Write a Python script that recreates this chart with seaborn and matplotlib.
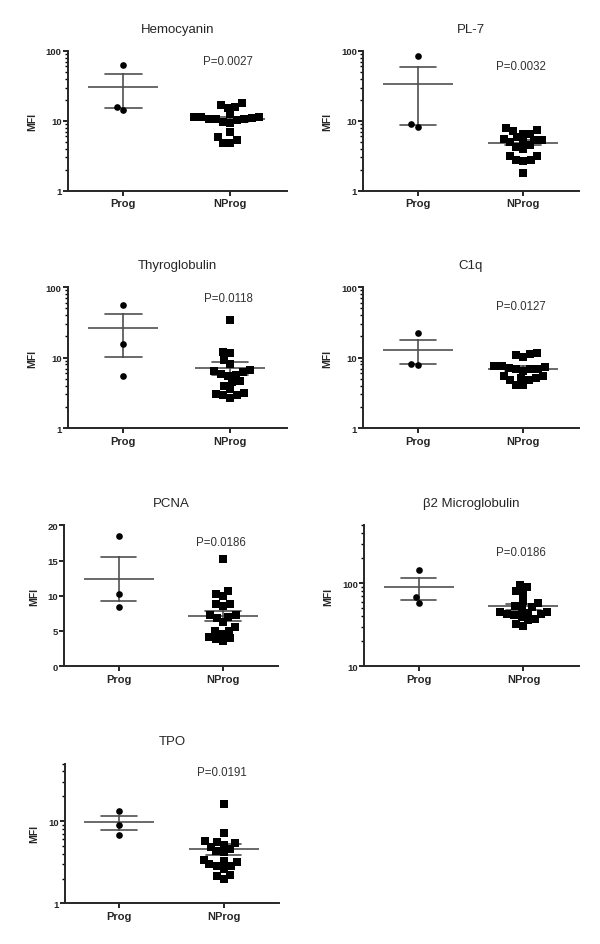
import numpy as np
import pandas as pd
import seaborn as sns
import matplotlib.pyplot as plt
from matplotlib.ticker import FixedLocator, NullFormatter

groups = ['Prog', 'NProg']

titles = ['Hemocyanin', 'PL-7', 'Thyroglobulin', 'C1q', 'PCNA', 'β2 Microglobulin', 'TPO']
p_labels = ['P=0.0027', 'P=0.0032', 'P=0.0118', 'P=0.0127', 'P=0.0186', 'P=0.0186', 'P=0.0191']

hemocyanin_prog = [62, 14.4, 15.8]
hemocyanin_nprog = [17.9, 15.8, 15.5, 16.7, 11.4, 10.8, 12.4, 11.0, 11.5, 10.2,
                    10.6, 10.8, 11.2, 9.2, 9.8, 7.0, 5.3, 5.8, 4.8, 4.9]

pl7_prog = [85, 8.3, 8.9]
pl7_nprog = [7.1, 6.6, 7.4, 8.0, 6.6, 5.4, 5.6, 5.4, 5.8, 5.0,
             4.5, 4.0, 4.3, 3.2, 2.8, 2.7, 2.8, 3.2, 1.8, 5.2]

thyro_prog = [56.7, 15.6, 5.5]
thyro_nprog = [34, 12.2, 11.5, 9.3, 8.1, 6.7, 6.2, 5.7, 5.9, 6.4,
               4.5, 4.0, 4.6, 3.1, 2.9, 2.7, 2.9, 3.0, 3.6, 5.5]

c1q_prog = [22.7, 7.9, 8.1]
c1q_nprog = [11.7, 10.9, 10.3, 11.3, 7.3, 6.9, 7.7, 7.7, 6.5, 7.1,
             6.8, 7.0, 5.1, 4.8, 5.4, 5.5, 4.8, 5.1, 4.1, 4.1]

pcna_prog = [18.5, 10.3, 8.4]
pcna_nprog = [15.2, 10.7, 10.0, 10.2, 8.8, 8.5, 8.9, 7.0, 6.9, 7.3,
              6.3, 4.6, 5.0, 5.0, 5.5, 4.0, 3.6, 3.8, 4.2, 7.2]

b2m_prog = [143.7, 69, 58.4]
b2m_nprog = [95.5, 80, 75.7, 90.3, 61, 57.3, 53.2, 49.4, 45.4, 42.2,
             41, 39.5, 42.2, 44.2, 45.4, 35.7, 32.5, 36.7, 30.5, 52]

tpo_prog = [13.2, 9.0, 6.8]
tpo_nprog = [16, 7.1, 5.65, 5.4, 4.9, 4.3, 5.15, 5.55, 4.6, 3.3,
             2.97, 3.4, 2.83, 2.65, 2.83, 3.16, 2.2, 2.0, 2.15, 4.2]

prog_sets = [hemocyanin_prog, pl7_prog, thyro_prog, c1q_prog, pcna_prog, b2m_prog, tpo_prog]
nprog_sets = [hemocyanin_nprog, pl7_nprog, thyro_nprog, c1q_nprog, pcna_nprog, b2m_nprog, tpo_nprog]

# axes rectangles, y scale, limits, major ticks, p-label height (axes fraction)
layout = [
    ([0.113, 0.797, 0.365, 0.148], 'log', (1, 100), [1, 10, 100], 0.93),
    ([0.605, 0.797, 0.360, 0.148], 'log', (1, 100), [1, 10, 100], 0.89),
    ([0.113, 0.546, 0.365, 0.149], 'log', (1, 100), [1, 10, 100], 0.92),
    ([0.605, 0.546, 0.360, 0.149], 'log', (1, 100), [1, 10, 100], 0.865),
    ([0.107, 0.294, 0.357, 0.149], 'linear', (0, 20), [0, 5, 10, 15, 20], 0.88),
    ([0.607, 0.294, 0.358, 0.149], 'log', (10, 500), [10, 100], 0.81),
    ([0.108, 0.043, 0.357, 0.148], 'log', (1, 50), [1, 10], 0.94),
]

sns.set_style('ticks')
plt.rcParams['font.family'] = ['Liberation Sans', 'DejaVu Sans']
plt.rcParams['axes.linewidth'] = 1.4

fig = plt.figure(figsize=(6, 9.45), dpi=100, facecolor='white')

for title, prog, nprog, p_text, (rect, scale, ylim, majors, p_y) in zip(
        titles, prog_sets, nprog_sets, p_labels, layout):
    ax = fig.add_axes(rect)
    df = pd.DataFrame({'group': ['Prog'] * len(prog) + ['NProg'] * len(nprog),
                       'MFI': prog + nprog})

    # mean +/- SEM, computed on the linear values before the log scale is set
    sns.pointplot(data=df, x='group', y='MFI', order=groups, errorbar='se',
                  capsize=0.34, markers='_', markersize=50, markeredgewidth=1.2,
                  linestyle='none', color='#505050', err_kws={'linewidth': 1.2}, ax=ax)
    if scale == 'log':
        ax.set_yscale('log')

    sns.swarmplot(data=df[df.group == 'Prog'], x='group', y='MFI', order=groups,
                  marker='o', color='black', size=4.8, ax=ax)
    sns.swarmplot(data=df[df.group == 'NProg'], x='group', y='MFI', order=groups,
                  marker='s', color='black', size=5.1, ax=ax)

    ax.set_xlim(-0.52, 1.53)
    ax.set_ylim(*ylim)
    ax.yaxis.set_major_locator(FixedLocator(majors))
    ax.set_yticklabels([str(m) for m in majors])
    if scale == 'log':
        lo, hi = ylim
        minors = [m * d for d in [1, 10, 100] for m in range(2, 10) if lo < m * d <= hi]
        ax.yaxis.set_minor_locator(FixedLocator(minors))
        ax.yaxis.set_minor_formatter(NullFormatter())

    ax.tick_params(axis='both', which='major', direction='out', length=3.5, width=1.2, color='black')
    ax.tick_params(axis='y', which='minor', direction='out', length=2, width=1.0, color='black')
    ax.tick_params(axis='x', labelsize=8, pad=2)
    ax.tick_params(axis='y', labelsize=6.8, pad=1)
    for lab in ax.get_xticklabels():
        lab.set_fontweight('bold')
    for lab in ax.get_yticklabels():
        lab.set_fontweight('bold')

    ax.set_xlabel('')
    ax.set_ylabel('MFI', fontsize=7.5, fontweight='bold', labelpad=6)
    ax.set_title(title, fontsize=9.5, pad=14)
    ax.text(0.98, p_y, p_text, transform=ax.get_xaxis_transform(),
            ha='center', va='center', fontsize=8.3, color='#333333')

    sns.despine(ax=ax)

plt.savefig('out.png', dpi=100, facecolor='white')
